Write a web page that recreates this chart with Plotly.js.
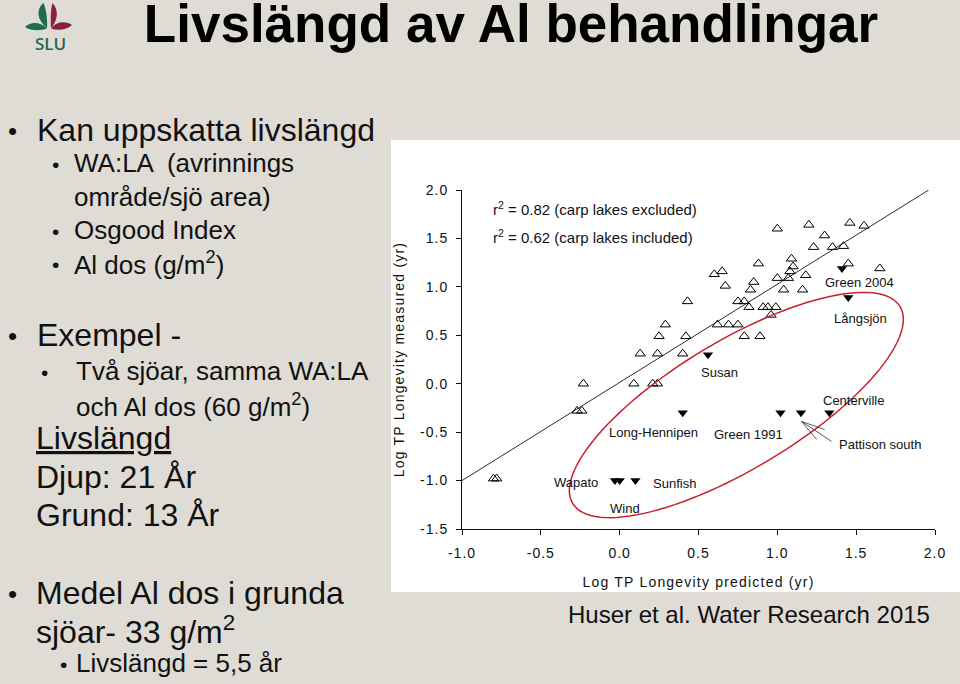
<!DOCTYPE html>
<html><head><meta charset="utf-8">
<script src="https://cdn.plot.ly/plotly-3.0.1.min.js"></script>
<style>
html,body{margin:0;padding:0;background:#dfdcd6;}
#chart{width:960px;height:684px;}
.xtick text,.ytick text{letter-spacing:1px;}
.xtitle,.ytitle{letter-spacing:1.2px;}
</style></head><body><div id="chart"></div>
<script>
// ---------- data ----------
const xTickVals = [-1, -0.5, 0, 0.5, 1, 1.5, 2];
const xTickText = ['-1.0','-0.5','0.0','0.5','1.0','1.5','2.0'];
const yTickVals = [-1.5, -1, -0.5, 0, 0.5, 1, 1.5, 2];
const yTickText = ['-1.5','-1.0','-0.5','0.0','0.5','1.0','1.5','2.0'];

// non-carp lakes (open triangles)
const openX = [1.00,1.20,1.46,1.55,1.30,1.23,1.35,1.42,1.45,1.65,0.88,1.09,1.10,1.08,1.18,1.00,1.07,0.85,0.60,0.65,0.67,0.83,1.04,1.16,0.43,0.75,0.79,0.82,0.91,0.94,0.99,0.96,0.29,0.62,0.69,0.75,0.25,0.42,0.79,0.89,0.13,0.24,0.40,-0.23,0.09,0.21,0.24,-0.27,-0.24,-0.80,-0.78];
const openY = [1.60,1.64,1.66,1.63,1.53,1.41,1.41,1.42,1.24,1.19,1.24,1.29,1.21,1.16,1.12,1.09,1.09,1.05,1.13,1.16,1.01,0.97,0.97,0.97,0.85,0.85,0.85,0.79,0.79,0.79,0.79,0.71,0.61,0.61,0.61,0.61,0.49,0.49,0.49,0.49,0.31,0.31,0.31,0.00,0.00,0.00,0.00,-0.28,-0.28,-0.98,-0.98];

// carp lakes (filled down triangles)
const carpNames = ['Green 2004','Långsjön','Susan','Long-Hennipen','Green 1991','Pattison south','Centerville','Wapato','Wind','Sunfish'];
const carpX = [1.41,1.45,0.56,0.40,1.02,1.15,1.33,-0.03,0.00,0.10];
const carpY = [1.19,0.89,0.30,-0.30,-0.30,-0.30,-0.30,-1.00,-1.00,-1.00];

// regression line
const fitX = [-1.0, 1.96];
const fitY = [-1.0, 2.0];

const statTexts = ['r<sup>2</sup> = 0.82 (carp lakes excluded)', 'r<sup>2</sup> = 0.62 (carp lakes included)'];

// ---------- layout helpers ----------
const FW = 960, FH = 684, ML = 462, MR = 25, MT = 190, MB = 155;
const PW = FW - ML - MR, PH = FH - MT - MB;
const xr = [-1, 2], yr = [-1.5, 2];
const pxX = PW / (xr[1] - xr[0]), pxY = PH / (yr[1] - yr[0]);
const px = x => (x - ML) / PW;
const py = y => (FH - MB - y) / PH;
const FONT = 'Liberation Sans, Arial, sans-serif';

// label placement (data coords) for carp lakes
const labelPos = {
  'Green 2004': [1.52, 1.05],
  'Långsjön': [1.53, 0.675],
  'Susan': [0.63, 0.12],
  'Long-Hennipen': [0.215, -0.50],
  'Green 1991': [0.82, -0.52],
  'Pattison south': [1.65, -0.625],
  'Centerville': [1.48, -0.17],
  'Wapato': [-0.28, -1.02],
  'Wind': [0.035, -1.29],
  'Sunfish': [0.35, -1.035]
};

const annotations = [];
carpNames.forEach(n => {
  const p = labelPos[n];
  annotations.push({x: p[0], y: p[1], xref: 'x', yref: 'y', text: n, showarrow: false,
    xanchor: 'center', yanchor: 'middle', font: {family: FONT, size: 13, color: '#111'}});
});
statTexts.forEach((t, i) => {
  annotations.push({x: -0.815, y: [1.81, 1.515][i], xref: 'x', yref: 'y', text: t, showarrow: false,
    xanchor: 'left', yanchor: 'middle', font: {family: FONT, size: 15, color: '#111'}});
});

// slide text
function st(text, x, y, size) {
  return {xref: 'paper', yref: 'paper', x: px(x), y: py(y), text: text, showarrow: false,
    xanchor: 'left', yanchor: 'middle', font: {family: FONT, size: size, color: '#111'}};
}
const slideText = [
  ['•', 6, 131, 26], ['Kan uppskatta livslängd', 35, 130, 32],
  ['•', 50, 164, 21], ['WA:LA  (avrinnings', 72, 163, 26],
  ['område/sjö area)', 72, 197, 26],
  ['•', 50, 231, 21], ['Osgood Index', 72, 230, 26],
  ['•', 50, 264, 21], ['Al dos (g/m<sup>2</sup>)', 72, 263, 26],
  ['•', 6, 336, 26], ['Exempel -', 35, 335, 32],
  ['•', 39, 372, 21], ['Två sjöar, samma WA:LA', 74, 371, 26],
  ['och Al dos (60 g/m<sup>2</sup>)', 74, 405, 26],
  ['<span style="text-decoration:underline">Livslängd</span>', 34, 438, 32],
  ['Djup: 21 År', 34, 477, 32],
  ['Grund: 13 År', 34, 515, 32],
  ['•', 6, 594, 26], ['Medel Al dos i grunda', 34, 593, 32],
  ['sjöar- 33 g/m<sup>2</sup>', 34, 630, 32],
  ['•', 58, 664, 21], ['Livslängd = 5,5 år', 74, 663, 26],
  ['Huser et al. Water Research 2015', 566, 614, 24]
];
slideText.forEach(s => annotations.push(st(s[0], s[1], s[2], s[3])));
annotations.push({xref: 'paper', yref: 'paper', x: px(50), y: py(44), text: 'SLU', showarrow: false,
  xanchor: 'center', yanchor: 'middle', font: {family: 'Open Sans, ' + FONT, size: 17, color: '#1d6b50', weight: 600}});

// ellipse around carp lakes (built from centre, pixel semi-axes and tilt)
const ell = {cx: 0.74, cy: -0.22, a: 191, b: 64, deg: 31};
let path = '';
const th = ell.deg * Math.PI / 180;
for (let k = 0; k <= 120; k++) {
  const t = k / 120 * 2 * Math.PI;
  const X = ell.a * Math.cos(t) * Math.cos(th) - ell.b * Math.sin(t) * Math.sin(th);
  const Y = ell.a * Math.cos(t) * Math.sin(th) + ell.b * Math.sin(t) * Math.cos(th);
  const dx = ell.cx + X / pxX, dy = ell.cy + Y / pxY;
  path += (k === 0 ? 'M' : 'L') + dx.toFixed(4) + ',' + dy.toFixed(4);
}
path += 'Z';

const shapes = [
  {type: 'rect', xref: 'paper', yref: 'paper', x0: px(391), x1: px(960), y0: py(592), y1: py(140),
   fillcolor: '#ffffff', line: {width: 0}, layer: 'below'},
  {type: 'path', xref: 'x', yref: 'y', path: path, line: {color: '#c8202e', width: 1.5}, layer: 'above'}
];
// arrow pointing at Pattison south (three strokes from the tip, offsets in px)
const pIdx = carpNames.indexOf('Pattison south');
const tip = [carpX[pIdx] + 0.004, carpY[pIdx] - 0.09];
[[23, 8], [15, 18], [30, 20]].forEach(o => {
  shapes.push({type: 'line', xref: 'x', yref: 'y', x0: tip[0], y0: tip[1],
    x1: tip[0] + o[0] / pxX, y1: tip[1] - o[1] / pxY, line: {color: '#333', width: 0.8}});
});

const logoSvg = '<svg xmlns="http://www.w3.org/2000/svg" width="120" height="60" viewBox="0 0 120 60">' +
  '<path d="M43,3 C36,10 37,20 47,28 C47.5,20 46.5,10 43.5,3 Z" fill="#1d6b50"/>' +
  '<path d="M52.5,3 C59,10 58,20 51,28 C50.5,20 50.5,10 52.5,3 Z" fill="#8b1f3f"/>' +
  '<path d="M25,27 C31,21 41,22 47,28.5 C40,31 31,31 25,27 Z" fill="#1d6b50"/>' +
  '<path d="M51,28.5 C57,21 66,21 72,25 C66,30 58,31 51,28.5 Z" fill="#8b1f3f"/>' +
  '</svg>';

const traces = [
  {x: fitX, y: fitY, mode: 'lines', line: {color: '#2a2a2a', width: 1}, hoverinfo: 'skip', cliponaxis: false},
  {x: openX, y: openY, mode: 'markers', cliponaxis: false,
   marker: {symbol: 'triangle-up-open', size: 9, color: '#000', line: {width: 1, color: '#000'}}},
  {x: carpX, y: carpY, mode: 'markers', cliponaxis: false,
   marker: {symbol: 'triangle-down', size: 9, color: '#000', line: {width: 0}}}
];

const axisBase = {showline: true, linecolor: '#111', linewidth: 1, ticks: 'outside', ticklen: 5,
  tickcolor: '#111', tickwidth: 1, showgrid: false, zeroline: false, fixedrange: true,
  tickfont: {family: FONT, size: 14, color: '#111'}};

const layout = {
  width: FW, height: FH, autosize: false,
  margin: {l: ML, r: MR, t: MT, b: MB, pad: 0},
  paper_bgcolor: '#dfdcd6', plot_bgcolor: 'rgba(0,0,0,0)',
  showlegend: false,
  font: {family: FONT, color: '#111'},
  title: {text: 'Livslängd av Al behandlingar', xref: 'container', yref: 'container',
    x: 511 / FW, y: 1 - 23 / FH, xanchor: 'center', yanchor: 'middle',
    font: {family: FONT, size: 53, color: '#000', weight: 700}},
  xaxis: Object.assign({}, axisBase, {range: xr, tickvals: xTickVals, ticktext: xTickText,
    ticklabelstandoff: 6,
    title: {text: 'Log TP Longevity predicted (yr)', standoff: 17, font: {family: FONT, size: 14, color: '#111'}}}),
  yaxis: Object.assign({}, axisBase, {range: yr, tickvals: yTickVals, ticktext: yTickText,
    ticklabelstandoff: 5,
    title: {text: 'Log TP Longevity measured (yr)', standoff: 12, font: {family: FONT, size: 14, color: '#111'}}}),
  shapes: shapes,
  annotations: annotations,
  images: [{source: 'data:image/svg+xml;charset=utf-8,' + encodeURIComponent(logoSvg),
    xref: 'paper', yref: 'paper', x: px(0), y: py(0), sizex: 120 / PW, sizey: 60 / PH,
    xanchor: 'left', yanchor: 'top', sizing: 'stretch', layer: 'above'}]
};

Plotly.newPlot('chart', traces, layout, {staticPlot: true, displayModeBar: false});
</script></body></html>
